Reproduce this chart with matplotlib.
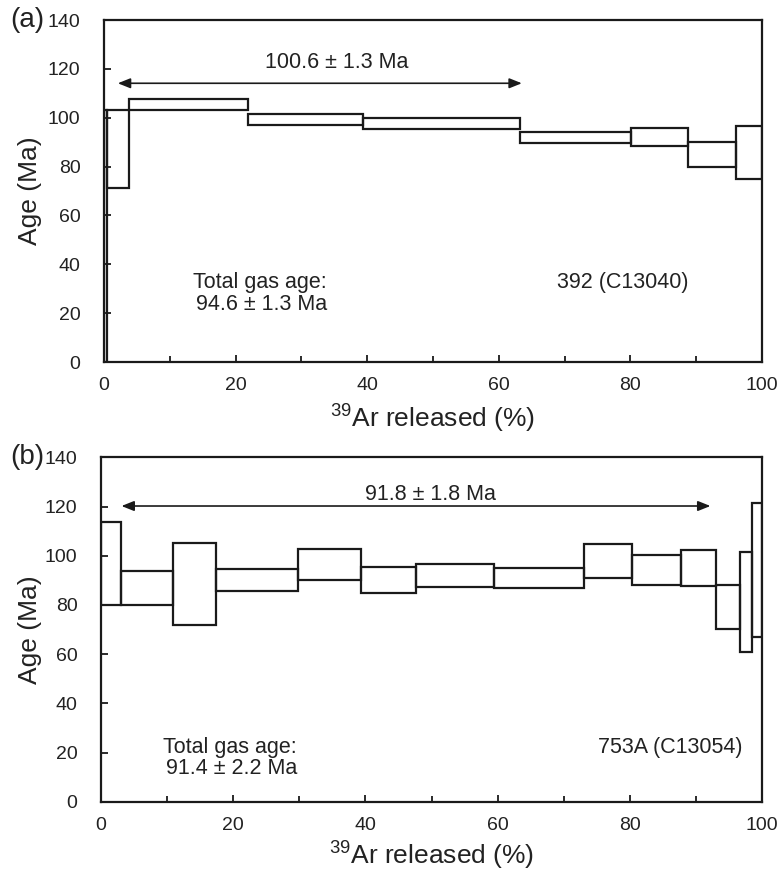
import matplotlib
matplotlib.use("Agg")
import matplotlib.pyplot as plt
from matplotlib.patches import Rectangle
from matplotlib.ticker import MultipleLocator

plt.rcParams['font.family'] = ['Liberation Sans', 'DejaVu Sans']
plt.rcParams['mathtext.fontset'] = 'custom'
plt.rcParams['mathtext.rm'] = 'Liberation Sans'
plt.rcParams['mathtext.it'] = 'Liberation Sans'

# ---------------- data ----------------
# Panel (a): 392 (C13040)
bounds_a = [0, 0.5, 3.8, 21.9, 39.3, 63.2, 80.1, 88.8, 96.0, 100]
lo_a = [0, 71.1, 103.0, 97.0, 95.5, 89.8, 88.5, 79.9, 74.9]
hi_a = [103.0, 103.0, 107.7, 101.5, 100.0, 94.0, 95.9, 89.9, 96.7]
plateau_a = (2.1, 63.5)
plateau_age_a = "100.6 ± 1.3 Ma"
total_gas_a = "94.6 ± 1.3 Ma"
sample_a = "392 (C13040)"

# Panel (b): 753A (C13054)
bounds_b = [0, 2.98, 10.9, 17.35, 29.8, 39.3, 47.7, 59.4, 73.0, 80.3, 87.7, 93.0, 96.7, 98.5, 100]
lo_b = [80.0, 80.0, 71.8, 85.6, 90.1, 84.7, 87.2, 86.7, 91.1, 88.0, 87.7, 70.1, 61.0, 66.8]
hi_b = [113.6, 93.7, 105.3, 94.7, 102.8, 95.5, 96.6, 95.0, 104.6, 100.2, 102.2, 88.0, 101.5, 121.5]
plateau_b = (3.1, 92.2)
plateau_age_b = "91.8 ± 1.8 Ma"
total_gas_b = "91.4 ± 2.2 Ma"
sample_b = "753A (C13054)"

W, H = 779, 872
fig = plt.figure(figsize=(W / 100, H / 100), dpi=100)


def px_axes(left, right, top, bottom):
    return fig.add_axes([left / W, 1 - bottom / H, (right - left) / W, (bottom - top) / H])


def draw_panel(ax, bounds, lo, hi, plateau, plateau_txt, arrow_y, txt_x, txt_y,
               tg_x, tg_y, tg_txt, sample, s_x, s_y):
    for i in range(len(lo)):
        ax.add_patch(Rectangle((bounds[i], lo[i]), bounds[i + 1] - bounds[i], hi[i] - lo[i],
                               fill=False, edgecolor='#1a1a1a', linewidth=1.6))
    ax.set_xlim(0, 100)
    ax.set_ylim(0, 140)
    ax.xaxis.set_major_locator(MultipleLocator(20))
    ax.xaxis.set_minor_locator(MultipleLocator(10))
    ax.yaxis.set_major_locator(MultipleLocator(20))
    ax.tick_params(axis='both', which='both', direction='in', width=1.3, color='#1a1a1a')
    ax.tick_params(axis='both', which='major', length=5, labelsize=14, labelcolor='#222222')
    ax.tick_params(axis='both', which='minor', length=4)
    ax.tick_params(axis='y', pad=17)
    ax.tick_params(axis='x', pad=11)
    for s in ax.spines.values():
        s.set_linewidth(1.6)
        s.set_color('#1a1a1a')
    ax.annotate('', xy=(plateau[0], arrow_y), xytext=(plateau[1], arrow_y),
                arrowprops=dict(arrowstyle='<|-|>,head_length=0.75,head_width=0.3',
                                color='#1a1a1a', lw=1.2, shrinkA=0, shrinkB=0))
    ax.text(txt_x, txt_y, plateau_txt, ha='center', va='center', fontsize=15.5, color='#222222')
    ax.text(tg_x[0], tg_y[0], "Total gas age:", ha='left', va='center', fontsize=15.5, color='#222222')
    ax.text(tg_x[1], tg_y[1], tg_txt, ha='left', va='center', fontsize=15.5, color='#222222')
    ax.text(s_x, s_y, sample, ha='center', va='center', fontsize=15.5, color='#222222')
    ax.set_ylabel("Age (Ma)", fontsize=19, color='#222222')
    ax.set_xlabel(r"$^{39}$Ar released (%)", fontsize=19, color='#222222')


ax1 = px_axes(104, 762, 20, 362)
draw_panel(ax1, bounds_a, lo_a, hi_a, plateau_a, plateau_age_a, 114.1, 35.4, 122.8,
           (13.5, 14.0), (32.7, 23.7), total_gas_a, sample_a, 78.9, 32.5)
ax1.yaxis.set_label_coords(-0.112, 0.5)
ax1.yaxis.label.set_va('center')
ax1.xaxis.set_label_coords(0.5, -0.12)

ax2 = px_axes(101, 762, 457.3, 801.7)
draw_panel(ax2, bounds_b, lo_b, hi_b, plateau_b, plateau_age_b, 120.2, 49.9, 124.7,
           (9.35, 9.8), (22.2, 13.3), total_gas_b, sample_b, 86.1, 22.2)
ax2.yaxis.set_label_coords(-0.108, 0.5)
ax2.yaxis.label.set_va('center')
ax2.xaxis.set_label_coords(0.5, -0.112)

fig.text(10 / W, 1 - 20 / H, "(a)", ha='left', va='center', fontsize=20, color='#222222')
fig.text(10 / W, 1 - 457 / H, "(b)", ha='left', va='center', fontsize=20, color='#222222')

fig.savefig("out.png", dpi=100)
